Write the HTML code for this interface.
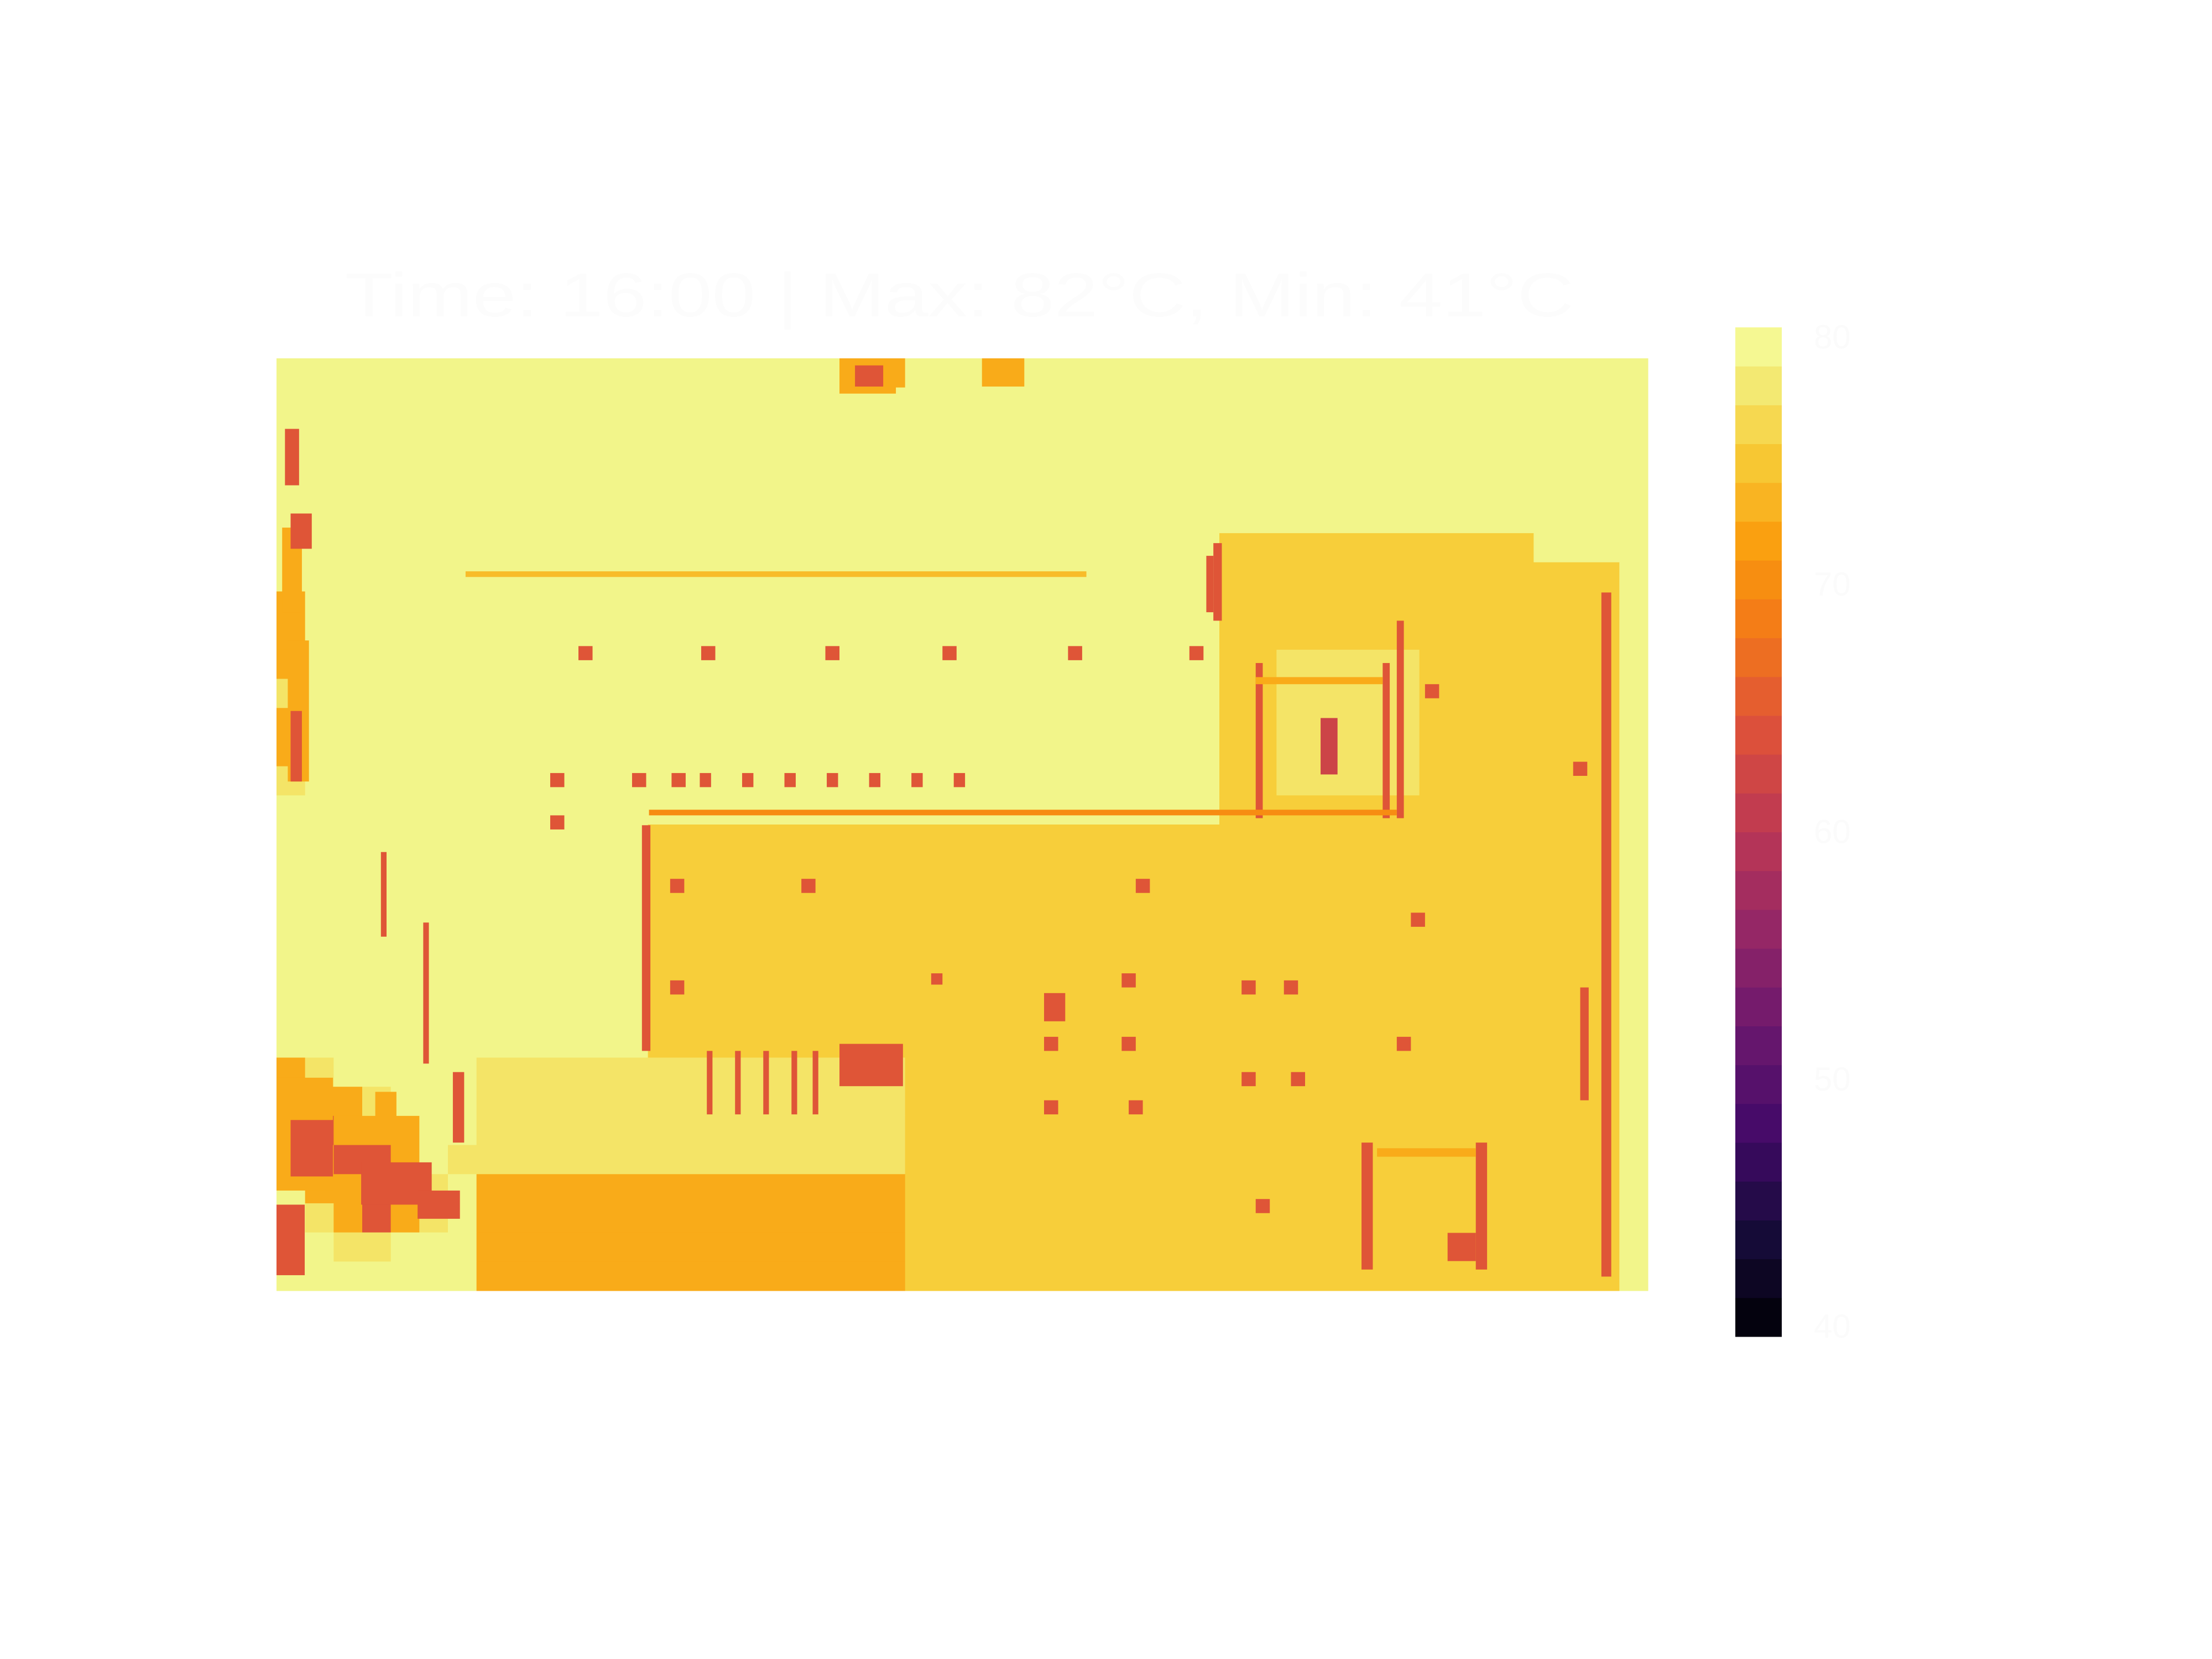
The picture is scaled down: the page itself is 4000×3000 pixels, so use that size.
<!DOCTYPE html>
<html><head><meta charset="utf-8"><style>
html,body{margin:0;padding:0;background:#fff;}
svg{display:block;}
</style></head><body>
<svg id="chart" width="4000" height="3000" viewBox="0 0 4000 3000" xmlns="http://www.w3.org/2000/svg">
<rect x="0" y="0" width="4000" height="3000" fill="#ffffff"/>
<text x="624" y="572" font-family="Liberation Sans, sans-serif" font-size="112" fill="#fcfcfc" textLength="2222" lengthAdjust="spacingAndGlyphs">Time: 16:00 | Max: 82°C, Min: 41°C</text>
<g id="heat"></g>
<g id="spots"></g>
<g id="cbar"></g>
</svg>
<script>
// level codes -> temperature values (°C)
const levelCodes = ['a','b','c','d','e'];
const levelValues = [79.2, 77.5, 75.5, 72.6, 64.5];
// 48 x 32 coarse temperature grid (rows top -> bottom)
const gridRows = [
"aaaaaaaaaa"+"aaaaaaaaaa"+"adaaaaaaaa"+"aaaaaaaaaa"+"aaaaaaaa",
"aaaaaaaaaa"+"aaaaaaaaaa"+"aaaaaaaaaa"+"aaaaaaaaaa"+"aaaaaaaa",
"aaaaaaaaaa"+"aaaaaaaaaa"+"aaaaaaaaaa"+"aaaaaaaaaa"+"aaaaaaaa",
"aaaaaaaaaa"+"aaaaaaaaaa"+"aaaaaaaaaa"+"aaaaaaaaaa"+"aaaaaaaa",
"aaaaaaaaaa"+"aaaaaaaaaa"+"aaaaaaaaaa"+"aaaaaaaaaa"+"aaaaaaaa",
"aaaaaaaaaa"+"aaaaaaaaaa"+"aaaaaaaaaa"+"aaaaaaaaaa"+"aaaaaaaa",
"aaaaaaaaaa"+"aaaaaaaaaa"+"aaaaaaaaaa"+"aaacccccccc"+"ccaaaa".slice(0,0)+"cccaaaa",
"aaaaaaaaaa"+"aaaaaaaaaa"+"aaaaaaaaaa"+"aaacccccccccc"+"cccca",
"daaaaaaaaa"+"aaaaaaaaaa"+"aaaaaaaaaa"+"aaacccccccccc"+"cccca",
"daaaaaaaaa"+"aaaaaaaaaa"+"aaaaaaaaaa"+"aaacccccccccc"+"cccca",
"daaaaaaaaa"+"aaaaaaaaaa"+"aaaaaaaaaa"+"aaaccbbbbbccc"+"cccca",
"baaaaaaaaa"+"aaaaaaaaaa"+"aaaaaaaaaa"+"aaaccbbbbbccc"+"cccca",
"daaaaaaaaa"+"aaaaaaaaaa"+"aaaaaaaaaa"+"aaaccbbbbbccc"+"cccca",
"daaaaaaaaa"+"aaaaaaaaaa"+"aaaaaaaaaa"+"aaaccbbbbbccc"+"cccca",
"baaaaaaaaa"+"aaaaaaaaaa"+"aaaaaaaaaa"+"aaaccbbbbbccc"+"cccca",
"aaaaaaaaaa"+"aaaaaaaaaa"+"aaaaaaaaaa"+"aaacccccccccc"+"cccca",
"aaaaaaaaaa"+"aaaccccccc"+"cccccccccc"+"cccccccccc"+"ccccccca",
"aaaaaaaaaa"+"aaaccccccc"+"cccccccccc"+"cccccccccc"+"ccccccca",
"aaaaaaaaaa"+"aaaccccccc"+"cccccccccc"+"cccccccccc"+"ccccccca",
"aaaaaaaaaa"+"aaaccccccc"+"cccccccccc"+"cccccccccc"+"ccccccca",
"aaaaaaaaaa"+"aaaccccccc"+"cccccccccc"+"cccccccccc"+"ccccccca",
"aaaaaaaaaa"+"aaaccccccc"+"cccccccccc"+"cccccccccc"+"ccccccca",
"aaaaaaaaaa"+"aaaccccccc"+"cccccccccc"+"cccccccccc"+"ccccccca",
"aaaaaaaaaa"+"aaaccccccc"+"cccccccccc"+"cccccccccc"+"ccccccca",
"dbaaaaabbb"+"bbbbbbbbbb"+"bbcccccccc"+"cccccccccc"+"ccccccca",
"eddbaaabbb"+"bbbbbbbbbb"+"bbcccccccc"+"cccccccccc"+"ccccccca",
"dedddaabbb"+"bbbbbbbbbb"+"bbcccccccc"+"cccccccccc"+"ccccccca",
"ddeedabbbb"+"bbbbbbbbbb"+"bbcccccccc"+"cccccccccc"+"ccccccca",
"addedbaddd"+"dddddddddd"+"ddcccccccc"+"cccccccccc"+"ccccccca",
"abdedbaddd"+"dddddddddd"+"ddcccccccc"+"cccccccccc"+"ccccccca",
"aabbaaaddd"+"dddddddddd"+"ddcccccccc"+"cccccccccc"+"ccccccca",
"aaaaaaaddd"+"dddddddddd"+"ddcccccccc"+"cccccccccc"+"ccccccca"
];
// detail patches in plot units (0..972 x 0..661)
const spotX = [214,301,389,472,561,647,194,252,280,300, 330,360,390,420,450,480,194,279,372,609, 279,599,684,714,544,599,794,684,719,544, 604,694,804,814,919,464,939,259,664,694, 784,694,740,794,6,4,8,10,10,399, 410,500,0,10,60,100,0,70,125,305, 325,345,365,380,399,924,769,850,780,830, 74,104,659,544,264,134];
const spotY = [204,204,204,204,204,204,294,294,294,294, 294,294,294,294,294,294,324,369,369,369, 441,436,441,441,481,481,481,506,506,526, 526,596,393,231,286,436,166,331,131,216, 216,226,255,186,50,120,200,250,110,0, 5,0,510,540,570,590,600,520,506,491, 491,491,491,491,486,446,556,556,560,620, 350,400,140,450,320,151];
const spotW = [10,10,10,10,10,10,10,10,10,8, 8,8,8,8,8,8,10,10,10,10, 10,10,10,10,10,10,10,10,10,10, 10,10,10,10,10,8,7,6,6,5, 5,90,12,5,10,14,15,8,15,40, 20,30,40,30,50,30,20,15,8,4, 4,4,4,4,45,6,8,8,70,20, 4,4,5,15,530,440];
const spotH = [10,10,10,10,10,10,10,10,10,10, 10,10,10,10,10,10,10,10,10,10, 10,10,10,10,10,10,10,10,10,10, 10,10,10,10,10,8,485,160,55,110, 110,5,40,140,40,60,100,50,25,25, 15,20,80,40,30,20,50,30,50,45, 45,45,45,45,30,80,90,90,6,20, 60,100,40,20,4,4];
const spotV = [64.5,64.5,64.5,64.5,64.5,64.5,64.5,64.5,64.5,64.5, 64.5,64.5,64.5,64.5,64.5,64.5,64.5,64.5,64.5,64.5, 64.5,64.5,64.5,64.5,64.5,64.5,64.5,64.5,64.5,64.5, 64.5,64.5,64.5,64.5,64.5,64.5,64.5,64.5,64.5,64.5, 64.5,72.6,62,64.5,64.5,72.6,72.6,64.5,64.5,72.6, 64.5,72.6,72.6,64.5,64.5,64.5,64.5,72.6,64.5,64.5, 64.5,64.5,64.5,64.5,64.5,64.5,64.5,64.5,72.6,64.5, 64.5,64.5,64.5,64.5,70,74];
// colorbar ticks
const tickValues = [80, 70, 60, 50, 40];
const tickLabels = ["80", "70", "60", "50", "40"];

const NS = 'http://www.w3.org/2000/svg';
const PX0 = 500, PY0 = 648, PW = 2480, PH = 1686, UW = 972, UH = 661;
const COLS = 48, ROWS = 32;
const VMIN = 39.6, VMAX = 80.4;
const sx = u => PX0 + u * PW / UW;
const sy = u => PY0 + u * PH / UH;
const colX = c => PX0 + c * PW / COLS;
const rowY = r => PY0 + r * PH / ROWS;
const CBX = 3138, CBW = 84, CBY0 = 592, CBY1 = 2417;
const cbY = v => CBY0 + (VMAX - v) / (VMAX - VMIN) * (CBY1 - CBY0);

const stops = [[0,0,0,4],[0.1,22,11,57],[0.2,66,10,104],[0.3,106,23,110],[0.4,147,38,103],[0.5,188,55,84],[0.6,221,81,58],[0.7,243,120,25],[0.78,250,155,12],[0.81,249,172,26],[0.88,247,206,58],[0.93,244,228,104],[0.97,242,245,138],[1,250,252,160]];
function inferno(t){
  t = Math.max(0, Math.min(1, t));
  for (let i = 1; i < stops.length; i++) {
    if (t <= stops[i][0]) {
      const a = stops[i-1], b = stops[i], f = (t - a[0]) / (b[0] - a[0]);
      return 'rgb(' + [1,2,3].map(k => Math.round(a[k] + f * (b[k] - a[k]))).join(',') + ')';
    }
  }
  return 'rgb(250,252,160)';
}
const colorOf = v => inferno((v - VMIN) / (VMAX - VMIN));

const heat = document.getElementById('heat');
gridRows.forEach((rowRaw, r) => {
  const row = rowRaw.padEnd(COLS, 'a').slice(0, COLS);
  let c = 0;
  while (c < COLS) {
    const ch = row[c];
    let e = c + 1;
    while (e < COLS && row[e] === ch) e++;
    const v = levelValues[levelCodes.indexOf(ch)];
    const rect = document.createElementNS(NS, 'rect');
    rect.setAttribute('x', colX(c));
    rect.setAttribute('y', rowY(r));
    rect.setAttribute('width', colX(e) - colX(c) + 0.5);
    rect.setAttribute('height', rowY(r + 1) - rowY(r) + 0.5);
    rect.setAttribute('fill', colorOf(v));
    
    
    heat.appendChild(rect);
    c = e;
  }
});

const spots = document.getElementById('spots');
spotX.forEach((x, i) => {
  const rect = document.createElementNS(NS, 'rect');
  rect.setAttribute('x', sx(x));
  rect.setAttribute('y', sy(spotY[i]));
  rect.setAttribute('width', sx(x + spotW[i]) - sx(x));
  rect.setAttribute('height', sy(spotY[i] + spotH[i]) - sy(spotY[i]));
  rect.setAttribute('fill', colorOf(spotV[i]));
  
  
  spots.appendChild(rect);
});

const cbar = document.getElementById('cbar');
const NSTEP = 26;
for (let i = 0; i < NSTEP; i++) {
  const v0 = VMIN + (VMAX - VMIN) * i / NSTEP, v1 = VMIN + (VMAX - VMIN) * (i + 1) / NSTEP;
  const rect = document.createElementNS(NS, 'rect');
  rect.setAttribute('x', CBX);
  rect.setAttribute('y', cbY(v1));
  rect.setAttribute('width', CBW);
  rect.setAttribute('height', cbY(v0) - cbY(v1) + 0.5);
  rect.setAttribute('fill', colorOf((v0 + v1) / 2));
  
  
  cbar.appendChild(rect);
}
tickValues.forEach((v, i) => {
  const t = document.createElementNS(NS, 'text');
  t.setAttribute('x', 3280);
  t.setAttribute('y', cbY(v) + 20);
  t.setAttribute('font-family', 'Liberation Sans, sans-serif');
  t.setAttribute('font-size', '60');
  t.setAttribute('fill', '#fbfbfb');
  t.textContent = tickLabels[i];
  
  
  cbar.appendChild(t);
});
</script>
</body></html>
